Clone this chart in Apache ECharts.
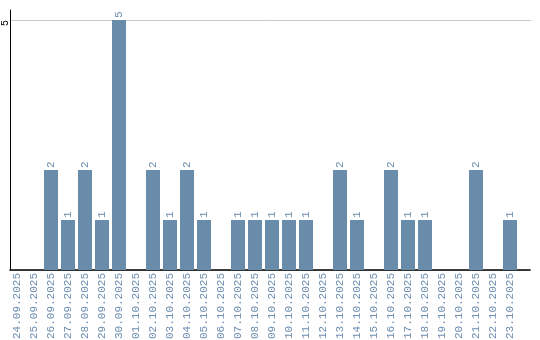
<!DOCTYPE html>
<html><head><meta charset="utf-8">
<script src="https://cdn.jsdelivr.net/npm/echarts@6/dist/echarts.min.js"></script>
<style>html,body{margin:0;padding:0;background:#fff}#c{width:540px;height:340px}</style>
</head><body><div id="c"></div>
<script>
var categories = ["24.09.2025","25.09.2025","26.09.2025","27.09.2025","28.09.2025","29.09.2025","30.09.2025","01.10.2025","02.10.2025","03.10.2025","04.10.2025","05.10.2025","06.10.2025","07.10.2025","08.10.2025","09.10.2025","10.10.2025","11.10.2025","12.10.2025","13.10.2025","14.10.2025","15.10.2025","16.10.2025","17.10.2025","18.10.2025","19.10.2025","20.10.2025","21.10.2025","22.10.2025","23.10.2025"];
var values = [0,0,2,1,2,1,5,0,2,1,2,1,0,1,1,1,1,1,0,2,1,0,2,1,1,0,0,2,0,1];
var yTicks = [5];

var chart = echarts.init(document.getElementById('c'), null, {renderer:'canvas'});
var labelColor = '#6e8eb0';
chart.setOption({
  animation:false,
  grid:[
    {left:10, right:10, top:10, bottom:70, outerBoundsMode:'none', containLabel:false},
    {left:8.5, width:510, top:10, bottom:70, outerBoundsMode:'none', containLabel:false},
    {left:10, right:9, top:20, bottom:70, outerBoundsMode:'none', containLabel:false}
  ],
  xAxis:[
    {gridIndex:0, type:'category', data:[''], axisLine:{show:true, lineStyle:{color:'#000', width:1.5}}, axisTick:{show:false}, axisLabel:{show:false}},
    {gridIndex:1, type:'category', data:categories, axisLine:{show:false}, axisTick:{show:false},
     axisLabel:{interval:0, rotate:90, margin:3, color:labelColor, fontFamily:'Liberation Mono', fontSize:11}},
    {gridIndex:2, type:'category', data:[''], show:false}
  ],
  yAxis:[
    {gridIndex:0, type:'value', min:0, max:5.2, interval:5,
     axisLine:{show:true, lineStyle:{color:'#000', width:1}}, axisTick:{show:false},
     splitLine:{show:false}, axisLabel:{show:false}},
    {gridIndex:1, type:'value', min:0, max:5.2, show:false},
    {gridIndex:2, type:'value', min:0, max:5, interval:5,
     axisLine:{show:false}, axisTick:{show:false},
     splitLine:{show:true, lineStyle:{color:'#c8c8c8', width:1}},
     axisLabel:{rotate:90, margin:0, align:'right', color:'#000', fontFamily:'Liberation Mono', fontSize:10,
       formatter:function(v){return yTicks.indexOf(v)>=0 ? String(v) : '';}}}
  ],
  series:[{
    type:'bar', xAxisIndex:1, yAxisIndex:1, data:values, barWidth:14,
    itemStyle:{color:'#6a8cab'},
    label:{show:true, position:'top', rotate:90, align:'left', verticalAlign:'middle', distance:2,
      color:labelColor, fontFamily:'Liberation Mono', fontSize:11,
      formatter:function(p){return p.value ? String(p.value) : '';}}
  }]
});
</script></body></html>
